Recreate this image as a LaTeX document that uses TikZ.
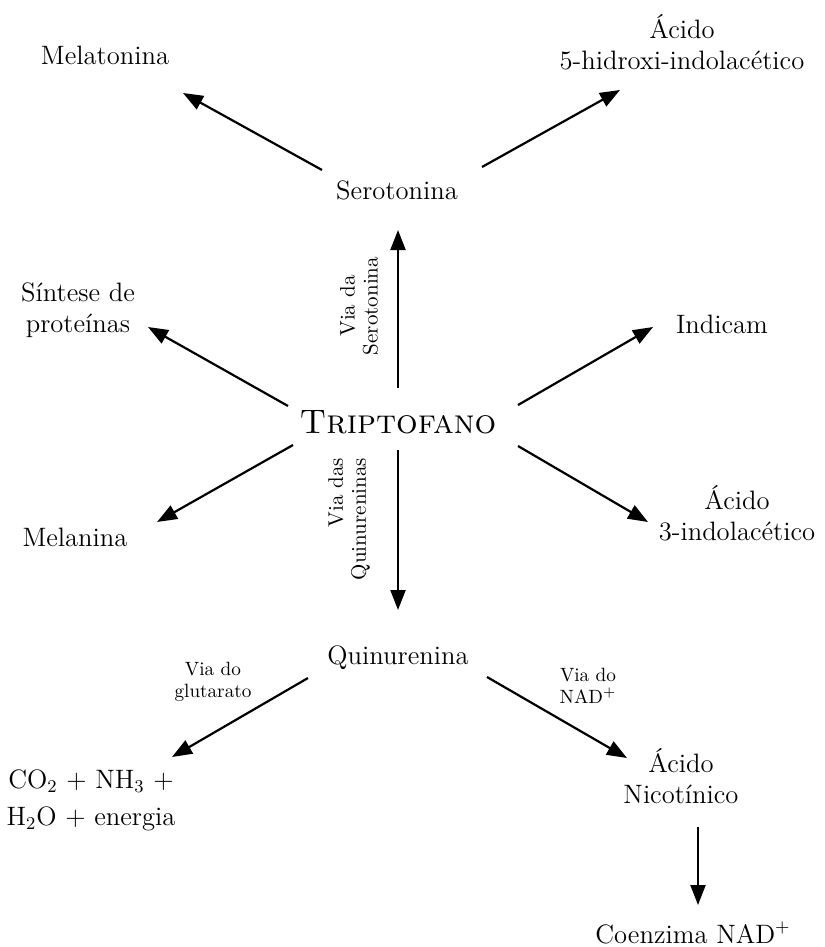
\documentclass[tikz,border=0pt]{standalone}
\usetikzlibrary{arrows.meta,calc}
\begin{document}
\begin{tikzpicture}[x=0.5pt,y=-0.5pt,
  lbl/.style={inner sep=0pt,align=center,font=\fontsize{13.3}{15.5}\selectfont},
  small/.style={inner sep=0pt,align=center,font=\fontsize{9.6}{11}\selectfont},
  vlab/.style={inner sep=0pt,rotate=90,font=\fontsize{10.5}{11.5}\selectfont},
  arr/.style={line width=1.1pt,-{Triangle[length=10pt,width=7.5pt]}}]
\useasboundingbox (0,0) rectangle (824,947);
% nodes
\node[lbl] (mel) at (105,55) {Melatonina};
\node[lbl] (ac5) at (682,42) {Ácido\\5-hidroxi-indolacético};
\node[lbl] (ser) at (397,190) {Serotonina};
\node[lbl] (sin) at (78,310) {Síntese de\\proteínas};
\node[inner sep=0pt,font=\fontsize{17}{20}\selectfont] (tri) at (398,422) {\textsc{Triptofano}};
\node[lbl] (ind) at (722,324) {Indicam};
\node[lbl] (mla) at (75,537) {Melanina};
\node[lbl] (ac3) at (737,513) {Ácido\\3-indolacético};
\node[lbl] (qui) at (398,658) {Quinurenina};
\node[small] (glu) at (213,682) {Via do\\glutarato};
\node[small] (nad) at (588,686) {Via do\\NAD$^{+}$};
\node[lbl] (co2) at (91,800) {CO$_2$ + NH$_3$ +\\[3pt]H$_2$O + energia};
\node[lbl] (nic) at (681,776) {Ácido\\Nicotínico};
\node[lbl] (coe) at (693,933) {Coenzima NAD$^{+}$};
\node[vlab,align=center] (vser) at (359,306) {Via da\\Serotonina};
\node[vlab,align=right] (vqui) at (349,519) {Via das\\Quinureninas};
% connectors
\draw[arr] ($(ser)+(-75,-20)$) -- ($(mel)+(78,38)$);
\draw[arr] ($(ser)+(85,-23)$) -- ($(ac5)+(-62,48)$);
\draw[arr] ($(tri)+(0,-34)$) -- ($(ser)+(1,40)$);
\draw[arr] ($(tri)+(-110,-16)$) -- ($(sin)+(70,17)$);
\draw[arr] ($(tri)+(120,-17)$) -- ($(ind)+(-69,3)$);
\draw[arr] ($(tri)+(-105,23)$) -- ($(mla)+(82,-15)$);
\draw[arr] ($(tri)+(120,24)$) -- ($(ac3)+(-89,9)$);
\draw[arr] ($(tri)+(0,28)$) -- ($(qui)+(0,-48)$);
\draw[arr] ($(qui)+(-90,20)$) -- ($(co2)+(81,-43)$);
\draw[arr] ($(qui)+(89,19)$) -- ($(nic)+(-54,-18)$);
\draw[arr] ($(nic)+(17,51)$) -- ($(coe)+(5,-28)$);
\end{tikzpicture}
\end{document}
